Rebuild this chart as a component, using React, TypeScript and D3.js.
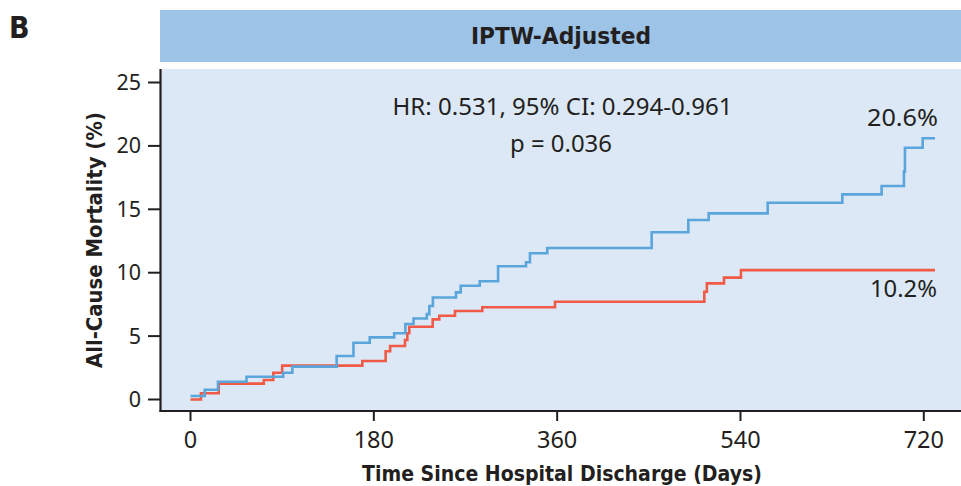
import * as d3 from "d3";

// step-curve points (days, cumulative mortality %)
const blueDays = [0, 14, 27, 55, 91, 100, 143.5, 160, 176, 200, 211, 219, 232, 234.5, 238, 260.7, 265.3, 284, 302, 329.4, 333.3, 350.3, 452.8, 488.8, 508.8, 566.7, 640, 678.6, 700.5, 701.5, 718.9, 731];
const blueVals = [0.28, 0.77, 1.4, 1.8, 2.11, 2.59, 3.43, 4.48, 4.9, 5.22, 5.95, 6.39, 6.73, 7.37, 8.04, 8.45, 8.97, 9.33, 10.51, 10.82, 11.53, 11.95, 13.19, 14.16, 14.68, 15.52, 16.18, 16.84, 17.97, 19.86, 20.6, 20.6];
const redDays = [0, 10.3, 27.7, 72, 81.3, 90, 168.7, 191.6, 196, 210.6, 212.9, 214.8, 237.8, 244.3, 259.7, 286.5, 357.9, 504.5, 507, 523.8, 540.5, 731];
const redVals = [0, 0.49, 1.25, 1.54, 2.11, 2.67, 3.04, 3.8, 4.22, 4.69, 5.22, 5.74, 6.32, 6.61, 6.98, 7.27, 7.71, 8.5, 9.16, 9.61, 10.2, 10.2];

const xTicks = [0, 180, 360, 540, 720];
const yTicks = [0, 5, 10, 15, 20, 25];

const W = 961, H = 486;
const font = "'Noto Sans', 'Open Sans', sans-serif";
const cond = "'DejaVu Sans Condensed', sans-serif";
const ink = "#231f20";

export default function App() {
  const x = d3.scaleLinear([0, 720], [190.5, 923.8]);
  const y = d3.scaleLinear([0, 25], [399.5, 82.5]);

  const line = d3.line<[number, number]>()
    .x(d => x(d[0]))
    .y(d => y(d[1]))
    .curve(d3.curveStepAfter);

  const blue = line(blueDays.map((d, i) => [d, blueVals[i]]) as [number, number][]) || "";
  const red = line(redDays.map((d, i) => [d, redVals[i]]) as [number, number][]) || "";

  const panelTop = 69, axisY = 411, axisX = 160.5;

  return (
    <svg width={W} height={H} style={{ position: "absolute", left: 0, top: 0 }} fontFamily={font}>
      <rect x={0} y={0} width={W} height={H} fill="#fff" />
      <text x={9} y={38} fontSize={30} fontWeight="bold" fill={ink} fontFamily={cond}>B</text>

      {/* header strip */}
      <rect x={160} y={10} width={W - 160} height={52} fill="#9dc3e6" />
      <text x={561} y={44} textAnchor="middle" fontSize={23} fontWeight="bold" fill={ink}
        fontFamily={cond} textLength={180} lengthAdjust="spacingAndGlyphs">IPTW-Adjusted</text>

      {/* panel */}
      <rect x={axisX} y={panelTop} width={W - axisX} height={axisY - panelTop} fill="#dce8f5" />

      <path d={red} fill="none" stroke="#f05a46" strokeWidth={2.6} />
      <path d={blue} fill="none" stroke="#5aa5dc" strokeWidth={2.6} />

      {/* axes */}
      <line x1={axisX} x2={axisX} y1={panelTop} y2={axisY + 1} stroke={ink} strokeWidth={2.2} />
      <line x1={axisX - 1} x2={W} y1={axisY} y2={axisY} stroke={ink} strokeWidth={2.2} />
      {yTicks.map(t => (
        <g key={"y" + t}>
          <line x1={148} x2={axisX} y1={y(t)} y2={y(t)} stroke={ink} strokeWidth={2} />
          <text x={141} y={y(t) + 7.5} textAnchor="end" fontSize={21.5} fill={ink}>{t}</text>
        </g>
      ))}
      {xTicks.map(t => (
        <g key={"x" + t}>
          <line x1={x(t)} x2={x(t)} y1={axisY} y2={axisY + 10} stroke={ink} strokeWidth={2} />
          <text x={x(t)} y={448} textAnchor="middle" fontSize={23.5} fill={ink}>{t}</text>
        </g>
      ))}

      {/* axis titles */}
      <text x={562} y={481} textAnchor="middle" fontSize={21} fontWeight="bold" fill={ink}
        fontFamily={cond} textLength={400} lengthAdjust="spacingAndGlyphs">Time Since Hospital Discharge (Days)</text>
      <text transform="translate(102,240) rotate(-90)" textAnchor="middle" fontSize={21} fontWeight="bold" fill={ink}
        fontFamily={cond} textLength={256} lengthAdjust="spacingAndGlyphs">All-Cause Mortality (%)</text>

      {/* annotations */}
      <text x={562.5} y={115} textAnchor="middle" fontSize={23} fill={ink} textLength={340} lengthAdjust="spacingAndGlyphs">HR: 0.531, 95% CI: 0.294-0.961</text>
      <text x={561} y={152} textAnchor="middle" fontSize={23} fill={ink} textLength={102} lengthAdjust="spacingAndGlyphs">p = 0.036</text>
      <text x={938} y={126} textAnchor="end" fontSize={23} fill={ink} textLength={71} lengthAdjust="spacingAndGlyphs">20.6%</text>
      <text x={937} y={297} textAnchor="end" fontSize={23} fill={ink} textLength={67} lengthAdjust="spacingAndGlyphs">10.2%</text>
    </svg>
  );
}
